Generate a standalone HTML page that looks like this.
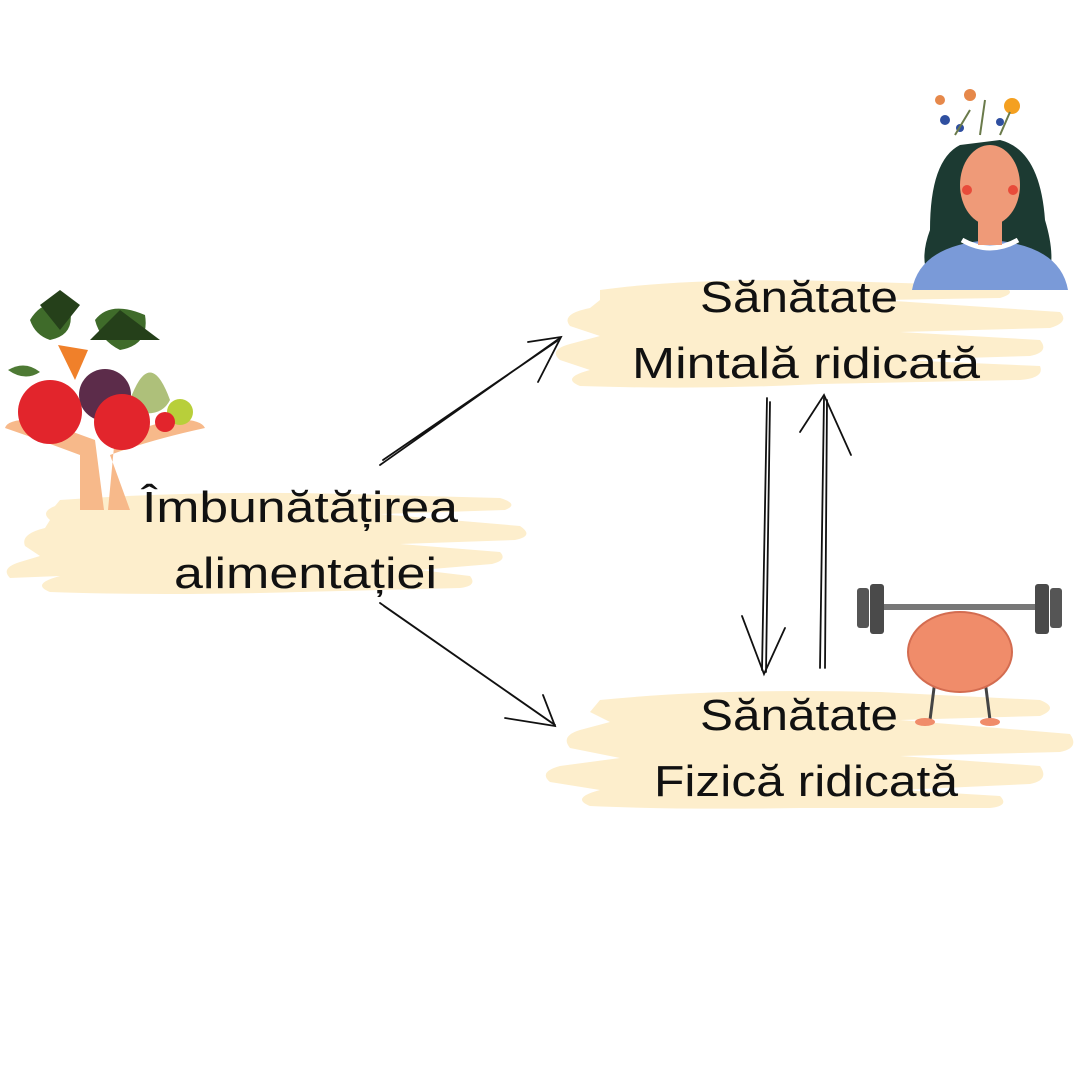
<!DOCTYPE html>
<html><head><meta charset="utf-8"><style>
html,body{margin:0;padding:0;background:#fff}
svg{display:block}
text{font-family:"Liberation Sans",sans-serif;font-size:44px;fill:#111}
</style></head><body>
<svg width="1080" height="1080" viewBox="0 0 1080 1080" xmlns="http://www.w3.org/2000/svg">
<g fill="#fdeecc">
 <path d="M600 290 Q700 276 870 282 L1000 286 Q1020 292 1000 298 L880 300 L1060 312 Q1070 322 1050 328 L900 332 L1040 340 Q1050 352 1030 356 L900 360 L1040 366 Q1045 378 1020 380 L820 384 Q700 390 580 386 Q560 378 590 370 L560 360 Q548 350 570 344 L600 336 L570 326 Q560 314 590 308 L600 300 Z"/>
 <path d="M600 700 Q720 688 880 692 L1040 700 Q1060 708 1040 716 L900 720 L1070 734 Q1080 748 1060 752 L900 756 L1040 766 Q1050 780 1030 784 L900 790 L1000 796 Q1010 806 990 808 L800 808 Q680 810 590 806 Q570 798 600 790 L550 782 Q538 772 560 766 L620 758 L570 748 Q560 736 580 730 L610 722 L590 712 Z"/>
 <path d="M60 500 Q200 490 350 494 L500 498 Q520 504 505 510 L380 514 L520 526 Q535 536 515 540 L400 544 L500 552 Q508 560 492 564 L420 570 L470 576 Q478 586 460 588 L300 592 Q160 596 50 592 Q30 584 60 576 L10 578 Q0 568 20 562 L40 556 L25 546 Q20 534 45 528 L50 520 Q40 512 55 506 Z"/>
</g>
<!-- fruit illustration -->
<g>
 <path d="M80 510 L80 455 Q40 440 5 428 Q8 418 40 420 L95 440 L104 510 Z" fill="#f7b98a"/>
 <path d="M130 510 L110 455 Q150 440 205 428 Q200 418 170 420 L115 436 L108 510 Z" fill="#f7b98a"/>
 <path d="M30 320 Q45 295 70 310 Q75 335 50 340 Q35 335 30 320Z M95 320 Q110 300 145 315 Q150 345 120 350 Q100 340 95 320Z" fill="#3f6b2a"/>
 <path d="M40 305 L60 290 L80 305 L60 330Z M90 340 L120 310 L160 340 Z" fill="#25401a"/>
 <path d="M58 345 L75 380 L88 350Z" fill="#f0802a"/>
 <path d="M130 400 Q150 345 170 400 Q160 420 130 410Z" fill="#aec07a"/>
 <circle cx="105" cy="395" r="26" fill="#5c2c4a"/>
 <circle cx="50" cy="412" r="32" fill="#e2252c"/>
 <circle cx="122" cy="422" r="28" fill="#e2252c"/>
 <circle cx="180" cy="412" r="13" fill="#b8cf3a"/>
 <circle cx="165" cy="422" r="10" fill="#e2252c"/>
 <path d="M8 370 Q25 360 40 372 Q25 382 8 370Z" fill="#4e7a34"/>
</g>
<!-- text -->
<text x="700" y="312" textLength="198" lengthAdjust="spacingAndGlyphs">Sănătate</text>
<text x="632" y="378" textLength="348" lengthAdjust="spacingAndGlyphs">Mintală ridicată</text>
<text x="142" y="522" textLength="316" lengthAdjust="spacingAndGlyphs">Îmbunătățirea</text>
<text x="174" y="588" textLength="263" lengthAdjust="spacingAndGlyphs">alimentației</text>
<text x="700" y="730" textLength="198" lengthAdjust="spacingAndGlyphs">Sănătate</text>
<text x="654" y="796" textLength="304" lengthAdjust="spacingAndGlyphs">Fizică ridicată</text>
<!-- arrows -->
<g stroke="#111" stroke-width="1.8" fill="none" stroke-linecap="round">
 <path d="M380 465 L560 338 M383 460 L557 341"/>
 <path d="M528 342 L561 337 L538 382"/>
 <path d="M380 603 L555 725 M384 606 L552 723"/>
 <path d="M505 718 L555 726 L543 695"/>
 <path d="M767 398 L762 670 M770 402 L766 672"/>
 <path d="M742 616 L764 674 L785 628"/>
 <path d="M824 398 L820 668 M827 400 L825 668"/>
 <path d="M800 432 L824 395 L851 455"/>
</g>
<!-- woman -->
<g>
 <path d="M940 290 Q915 270 930 230 Q930 160 960 145 L1000 140 Q1040 150 1045 220 Q1060 270 1040 290 Z" fill="#1c3a32"/>
 <path d="M912 290 Q920 245 990 240 Q1060 245 1068 290 Z" fill="#7a9ad8"/>
 <path d="M962 240 Q990 256 1018 240" stroke="#fff" stroke-width="5" fill="none"/>
 <rect x="978" y="215" width="24" height="30" fill="#ef9a78"/>
 <ellipse cx="990" cy="185" rx="30" ry="40" fill="#ef9a78"/>
 <circle cx="967" cy="190" r="5" fill="#e84b3a"/><circle cx="1013" cy="190" r="5" fill="#e84b3a"/>
 <g fill="#e6884a"><circle cx="940" cy="100" r="5"/><circle cx="1012" cy="106" r="8" fill="#f4a020"/><circle cx="970" cy="95" r="6"/></g>
 <g fill="#2f4fa0"><circle cx="945" cy="120" r="5"/><circle cx="960" cy="128" r="4"/><circle cx="1000" cy="122" r="4"/></g>
 <path d="M955 135 L970 110 M980 135 L985 100 M1000 135 L1010 112" stroke="#6a7a4a" stroke-width="2"/>
</g>
<!-- brain with barbell -->
<g>
 <rect x="880" y="604" width="160" height="6" fill="#777"/>
 <rect x="857" y="588" width="12" height="40" rx="3" fill="#555"/>
 <rect x="870" y="584" width="14" height="50" rx="3" fill="#4a4a4a"/>
 <rect x="1035" y="584" width="14" height="50" rx="3" fill="#4a4a4a"/>
 <rect x="1050" y="588" width="12" height="40" rx="3" fill="#555"/>
 <path d="M935 680 L930 720 M985 680 L990 720" stroke="#444" stroke-width="3"/>
 <ellipse cx="925" cy="722" rx="10" ry="4" fill="#f08c6a"/><ellipse cx="990" cy="722" rx="10" ry="4" fill="#f08c6a"/>
 <ellipse cx="960" cy="652" rx="52" ry="40" fill="#f08c6a" stroke="#d36c50" stroke-width="2"/>
</g>
</svg>
</body></html>
